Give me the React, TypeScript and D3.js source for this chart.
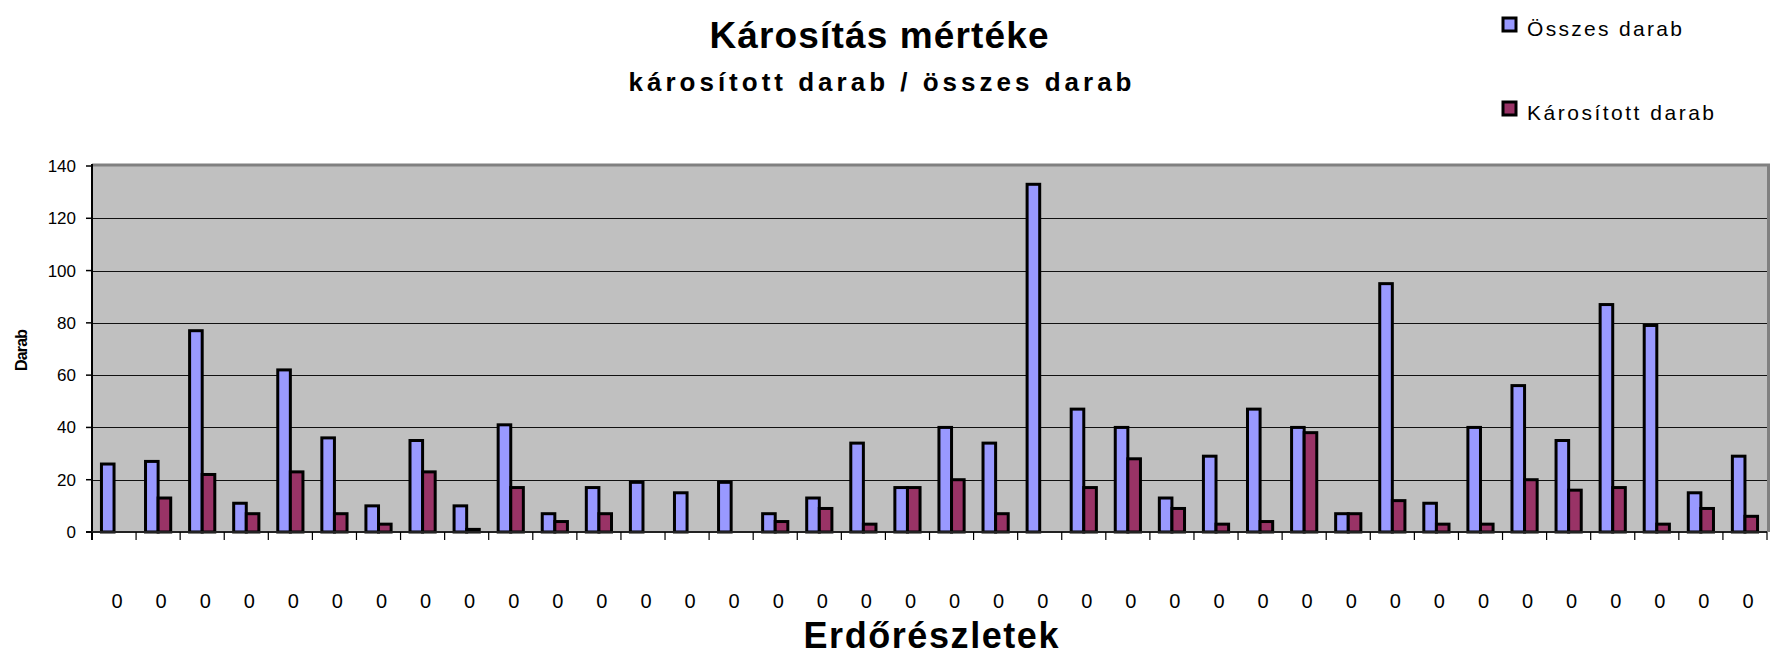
import React from 'react';
import * as d3 from 'd3';

// category labels (every Erdőrészlet is labelled "0" in the original)
const categories = ['0', '0', '0', '0', '0', '0', '0', '0', '0', '0',
    '0', '0', '0', '0', '0', '0', '0', '0', '0', '0',
    '0', '0', '0', '0', '0', '0', '0', '0', '0', '0',
    '0', '0', '0', '0', '0', '0', '0', '0'];

// Összes darab
const totalCount = [26, 27, 77, 11, 62, 36, 10, 35, 10, 41,
    7, 17, 19, 15, 19, 7, 13, 34, 17, 40,
    34, 133, 47, 40, 13, 29, 47, 40, 7, 95,
    11, 40, 56, 35, 87, 79, 15, 29];

// Károsított darab
const damagedCount = [0, 13, 22, 7, 23, 7, 3, 23, 1, 17,
    4, 7, 0, 0, 0, 4, 9, 3, 17, 20,
    7, 0, 17, 28, 9, 3, 4, 38, 7, 12,
    3, 3, 20, 16, 17, 3, 9, 6];

const seriesNames = ['Összes darab', 'Károsított darab'];
const seriesColors = ['#9999FF', '#993366'];
const yTicks = [0, 20, 40, 60, 80, 100, 120, 140];

const FONT = '"Liberation Sans", Arial, sans-serif';

const W = 1770;
const H = 657;
const plot = {left: 92, right: 1767, top: 166, bottom: 532};

export default function App() {
    const x = d3.scaleBand<number>()
        .domain(categories.map((_, i) => i))
        .range([plot.left, plot.right]);
    // gap width 150% like the spreadsheet default
    const xs = d3.scaleBand<number>()
        .domain([0, 1])
        .range([0, x.bandwidth()])
        .paddingOuter(0.75);
    const y = d3.scaleLinear().domain([0, 140]).range([plot.bottom, plot.top]);

    const series = [totalCount, damagedCount];
    const boundaries = categories.map((_, i) => x(i) as number).concat([plot.right]);

    return (
        <svg width={W} height={H} style={{position: 'absolute', left: 0, top: 0}}
            fontFamily={FONT}>
            <rect x={0} y={0} width={W} height={H} fill="#fff" />

            {/* titles */}
            <text x={879} y={48} textAnchor="middle" fontSize={37} fontWeight="bold"
                textLength={339} lengthAdjust="spacing">Károsítás mértéke</text>
            <text x={880} y={91} textAnchor="middle" fontSize={26} fontWeight="bold"
                textLength={503} lengthAdjust="spacing">károsított darab / összes darab</text>

            {/* legend */}
            {seriesNames.map((name, i) => (
                <g key={name} transform={`translate(1503,${18 + i * 84})`}>
                    <rect x={0} y={0} width={13} height={13} fill={seriesColors[i]}
                        stroke="#000" strokeWidth={3} />
                    <text x={24} y={18} fontSize={21}
                        textLength={i === 0 ? 155 : 187} lengthAdjust="spacing">{name}</text>
                </g>
            ))}

            {/* plot area */}
            <rect x={plot.left} y={plot.top} width={plot.right - plot.left}
                height={plot.bottom - plot.top} fill="#C0C0C0" />
            {yTicks.filter(t => t > 0 && t < 140).map(t => (
                <line key={t} x1={plot.left} x2={plot.right} y1={Math.round(y(t)) + 0.5}
                    y2={Math.round(y(t)) + 0.5} stroke="#111" strokeWidth={1.2} />
            ))}

            {/* bars */}
            {series.map((vals, s) => vals.map((v, i) => v > 0 && (
                <rect key={`${s}-${i}`}
                    x={(x(i) as number) + (xs(s) as number)}
                    y={y(v)}
                    width={xs.bandwidth()}
                    height={y(0) - y(v)}
                    fill={seriesColors[s]} stroke="#000" strokeWidth={3} />
            )))}

            {/* border + axes */}
            <line x1={plot.left} x2={W} y1={plot.top - 1} y2={plot.top - 1} stroke="#808080" strokeWidth={3} />
            <line x1={plot.right + 1.5} x2={plot.right + 1.5} y1={plot.top - 2} y2={plot.bottom} stroke="#808080" strokeWidth={3} />
            <line x1={plot.left} x2={plot.left} y1={plot.top - 2} y2={plot.bottom + 8} stroke="#000" strokeWidth={2} />
            <line x1={plot.left - 6} x2={plot.right} y1={plot.bottom} y2={plot.bottom} stroke="#222" strokeWidth={2} />

            {yTicks.map(t => (
                <g key={t}>
                    <line x1={plot.left - 6} x2={plot.left} y1={y(t)} y2={y(t)} stroke="#000" strokeWidth={1.5} />
                    <text x={76} y={y(t) + 6} textAnchor="end" fontSize={17}>{t}</text>
                </g>
            ))}
            <text transform="translate(27,350) rotate(-90)" textAnchor="middle" fontSize={16}
                fontWeight="bold" textLength={42} lengthAdjust="spacing">Darab</text>

            {boundaries.map((b, i) => (
                <line key={i} x1={b} x2={b} y1={plot.bottom} y2={plot.bottom + 8} stroke="#000" strokeWidth={1.2} />
            ))}
            {categories.map((c, i) => (
                <text key={i} x={(x(i) as number) + x.bandwidth() / 2 + 3} y={608}
                    textAnchor="middle" fontSize={20}>{c}</text>
            ))}

            <text x={931} y={648} textAnchor="middle" fontSize={36} fontWeight="bold"
                textLength={255} lengthAdjust="spacing">Erdőrészletek</text>
        </svg>
    );
}
